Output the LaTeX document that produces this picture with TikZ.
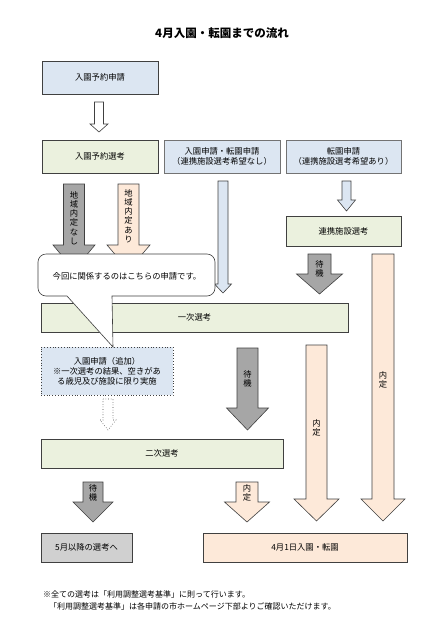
\documentclass[tikz,border=0pt]{standalone}
\usepackage{fontspec}
\setmainfont{Noto Sans CJK JP}
\usetikzlibrary{shadows}
\definecolor{cblue}{HTML}{DCE6F2}
\definecolor{cgreen}{HTML}{EBF1DE}
\definecolor{cpeach}{HTML}{FDE9D9}
\definecolor{cgray}{HTML}{A6A6A6}
\definecolor{cgraybox}{HTML}{D0D0D0}
\definecolor{cline}{HTML}{404040}
\tikzset{
  x=1pt, y=-1pt,
  every node/.style={font=\fontsize{8.3}{10}\selectfont, inner sep=0pt, align=center},
  mainbox/.style={draw=cline, line width=0.9pt, drop shadow={shadow xshift=1.2pt, shadow yshift=-1.2pt, opacity=0.35}},
  thinbox/.style={draw=black!55, line width=0.5pt},
  blk/.style={draw=cline, line width=0.6pt},
  vtext/.style={font=\fontsize{8.3}{9.2}\selectfont},
}
% \barrow{style}{cx}{shaft half}{head half}{top}{head start}{tip}
\newcommand{\barrow}[7]{%
  \draw[#1] ({#2-#3},#5) -- ({#2+#3},#5) -- ({#2+#3},#6) -- ({#2+#4},#6) -- (#2,#7)
    -- ({#2-#4},#6) -- ({#2-#3},#6) -- cycle;}
\begin{document}
\begin{tikzpicture}
\useasboundingbox[fill=white] (0,0) rectangle (443,630);

\node[font=\fontsize{11.5}{13}\selectfont\bfseries] (title) at (222,33) {4月入園・転園までの流れ};

% boxes
\node[mainbox, fill=cblue, minimum width=116, minimum height=33] (b1) at (100,77.5) {入園予約申請};
\node[mainbox, fill=cgreen, minimum width=116, minimum height=33] (b2) at (100,156.5) {入園予約選考};
\node[thinbox, fill=cblue, minimum width=116, minimum height=33] (b3) at (222,156.5) {入園申請・転園申請\\（連携施設選考希望なし）};
\node[thinbox, fill=cblue, minimum width=115, minimum height=33] (b4) at (343.5,156.5) {転園申請\\（連携施設選考希望あり）};
\node[mainbox, fill=cgreen, minimum width=115, minimum height=30] (renkei) at (343.5,231) {連携施設選考};

% arrows
\barrow{blk, fill=white}{99}{4.5}{9}{102}{124}{132}
\barrow{blk, fill=cgray}{74}{10.5}{21}{184}{245}{270}
\barrow{blk, fill=cpeach}{128.5}{10.5}{21.5}{184}{245}{270}
\node[vtext] (t1) at (74,218) {地\\域\\内\\定\\な\\し};
\node[vtext] (t2) at (128.5,216) {地\\域\\内\\定\\あ\\り};
\barrow{blk, fill=cblue}{223}{5}{8.5}{181}{284}{293}
\barrow{blk, fill=cblue}{346.5}{4.5}{9}{181}{200}{211}
\barrow{blk, fill=cgray}{319.5}{11.5}{23}{254}{274}{294}
\node[vtext] (t3) at (319.5,269) {待\\機};
\barrow{blk, fill=cpeach}{383}{11}{22}{254}{499}{521}
\node[vtext] (t4) at (383,380) {内\\定};

\node[mainbox, fill=cgreen, minimum width=307, minimum height=29] (ichiji) at (194.5,317.5) {一次選考};
\node[draw=cline, line width=0.8pt, dotted, fill=cblue, minimum width=132, minimum height=48] (tsuika) at (107,371) {入園申請（追加）\\※一次選考の結果、空きがあ\\る歳児及び施設に限り実施};

% callout (over the 一次選考 box)
\draw[draw=cline, line width=0.6pt, fill=white] (38,280) [rounded corners=8pt] -- (38,254) -- (215,254) -- (215,296) [sharp corners] -- (112,296) -- (113,347) -- (67,296) [rounded corners=8pt] -- (38,296) -- cycle;
\node (callt) at (127,276) {今回に関係するのはこちらの申請です。};

\barrow{blk, dotted, fill=white}{108}{5}{8}{399}{420}{430}
\barrow{blk, fill=cgray}{247.5}{10.5}{21}{348}{408}{430}
\node[vtext] (t5) at (247.5,379) {待\\機};
\barrow{blk, fill=cpeach}{316.5}{10.5}{22.5}{345}{499}{521}
\node[vtext] (t6) at (316.5,428) {内\\定};

\node[mainbox, fill=cgreen, minimum width=242, minimum height=29] (niji) at (162,453.5) {二次選考};

\barrow{blk, fill=cgray}{93}{10}{20}{482}{502}{522}
\node[vtext] (t7) at (93,493) {待\\機};
\barrow{blk, fill=cpeach}{247}{11}{22.5}{482}{502}{522}
\node[vtext] (t8) at (247,493) {内\\定};

\node[mainbox, fill=cgraybox, minimum width=91, minimum height=29] (may) at (86.5,547.5) {5月以降の選考へ};
\node[mainbox, fill=cpeach, minimum width=204, minimum height=29] (apr) at (305,547.5) {4月1日入園・転園};

\node[anchor=west, font=\fontsize{8}{10}\selectfont] (f1) at (43,594) {※全ての選考は「利用調整選考基準」に則って行います。};
\node[anchor=west, font=\fontsize{8}{10}\selectfont] (f2) at (49,606) {「利用調整選考基準」は各申請の市ホームページ下部よりご確認いただけます。};
\end{tikzpicture}
\end{document}
